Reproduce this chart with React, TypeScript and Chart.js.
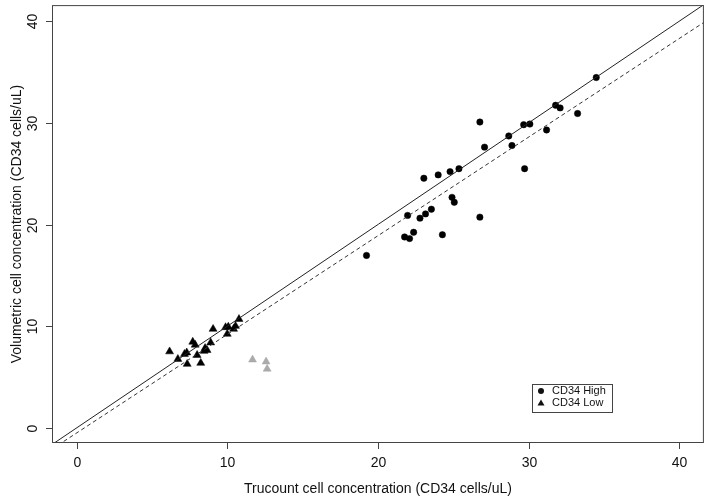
import React, { useEffect, useRef } from "react";
import { Chart, registerables } from "chart.js";

Chart.register(...registerables);

// CD34 High (circles)
const highX = [34.5, 31.8, 32.1, 33.26, 26.77, 29.68, 30.09, 31.2, 28.69, 27.08, 28.9, 23.05, 24.0, 24.79, 25.38, 29.74, 24.92, 25.07, 21.97, 23.55, 23.16, 22.79, 26.77, 22.37, 21.77, 22.1, 24.28, 19.24];
const highY = [34.47, 31.74, 31.48, 30.93, 30.09, 29.83, 29.89, 29.31, 28.72, 27.62, 27.78, 24.56, 24.89, 25.21, 25.5, 25.5, 22.68, 22.19, 20.9, 21.51, 21.05, 20.63, 20.73, 19.24, 18.78, 18.62, 19.0, 16.96];

// CD34 Low (triangles)
const lowX = [6.16, 6.71, 7.15, 7.3, 7.33, 7.7, 7.86, 7.99, 8.23, 8.52, 8.65, 8.45, 8.89, 9.05, 9.88, 10.06, 9.99, 10.41, 10.54, 10.77];
const lowY = [7.5, 6.76, 7.25, 7.4, 6.27, 8.45, 8.16, 7.15, 6.37, 7.83, 7.64, 7.55, 8.38, 9.72, 9.88, 9.94, 9.23, 9.72, 10.01, 10.69];

// excluded (grey) triangles
const exclX = [11.67, 12.57, 12.64];
const exclY = [6.7, 6.5, 5.79];

const xTicks = [0, 10, 20, 30, 40];
const yTicks = [0, 10, 20, 30, 40];
const xTitle = "Trucount cell concentration (CD34 cells/uL)";
const yTitle = "Volumetric cell concentration (CD34 cells/uL)";
const legendLabels = ["CD34 High", "CD34 Low"];

const xMin = -1.65;
const xMax = 41.65;
const yMin = -1.5;
const yMax = 41.6;

// fitted regression line (dashed)
const fitSlope = 0.97;
const fitIntercept = -0.5;

const FONT = "'Liberation Sans', Arial, sans-serif";

const rPlot = {
  id: "rPlot",
  afterDraw(chart: any) {
    const { ctx, chartArea, scales } = chart;
    const { left, right, top, bottom } = chartArea;
    const xs = scales.x;
    const ys = scales.y;
    ctx.save();
    ctx.strokeStyle = "#444";
    ctx.lineWidth = 1;
    ctx.strokeRect(left + 0.5, top + 0.5, right - left - 1, bottom - top - 1);

    // x ticks
    ctx.fillStyle = "#111";
    ctx.font = `14px ${FONT}`;
    ctx.textAlign = "center";
    ctx.textBaseline = "middle";
    xTicks.forEach((t) => {
      const px = Math.round(xs.getPixelForValue(t)) + 0.5;
      ctx.beginPath();
      ctx.moveTo(px, bottom);
      ctx.lineTo(px, bottom + 6);
      ctx.stroke();
      ctx.fillText(String(t), px, bottom + 20);
    });
    // y ticks
    yTicks.forEach((t) => {
      const py = Math.round(ys.getPixelForValue(t)) + 0.5;
      ctx.beginPath();
      ctx.moveTo(left, py);
      ctx.lineTo(left - 6, py);
      ctx.stroke();
      ctx.save();
      ctx.translate(left - 19, py);
      ctx.rotate(-Math.PI / 2);
      ctx.fillText(String(t), 0, 0);
      ctx.restore();
    });
    // titles
    ctx.fillText(xTitle, (left + right) / 2, bottom + 46);
    ctx.save();
    ctx.translate(17, (top + bottom) / 2);
    ctx.rotate(-Math.PI / 2);
    ctx.fillText(yTitle, 0, 0);
    ctx.restore();

    // legend
    const lx = 532, ly = 384, lw = 80, lh = 28;
    ctx.fillStyle = "#fff";
    ctx.fillRect(lx, ly, lw, lh);
    ctx.strokeStyle = "#444";
    ctx.strokeRect(lx + 0.5, ly + 0.5, lw, lh);
    ctx.fillStyle = "#111";
    ctx.font = `11px ${FONT}`;
    ctx.textAlign = "left";
    ctx.beginPath();
    ctx.arc(541, 391, 3, 0, Math.PI * 2);
    ctx.fill();
    ctx.beginPath();
    ctx.moveTo(541, 399.5);
    ctx.lineTo(544.5, 405.5);
    ctx.lineTo(537.5, 405.5);
    ctx.closePath();
    ctx.fill();
    ctx.fillText(legendLabels[0], 552, 391);
    ctx.fillText(legendLabels[1], 552, 403);
    ctx.restore();
  },
};

export default function App() {
  const ref = useRef<HTMLCanvasElement>(null);
  useEffect(() => {
    if (!ref.current) return;
    const toPts = (xs: number[], ys: number[]) => xs.map((x, i) => ({ x, y: ys[i] }));
    const chart = new Chart(ref.current, {
      type: "scatter",
      data: {
        datasets: [
          {
            label: "identity",
            type: "line",
            data: [
              { x: xMin, y: xMin },
              { x: xMax, y: xMax },
            ],
            borderColor: "#222",
            borderWidth: 1,
            pointRadius: 0,
            fill: false,
          } as any,
          {
            label: "fit",
            type: "line",
            data: [
              { x: xMin, y: fitSlope * xMin + fitIntercept },
              { x: xMax, y: fitSlope * xMax + fitIntercept },
            ],
            borderColor: "#333",
            borderWidth: 1,
            borderDash: [4, 3],
            pointRadius: 0,
            fill: false,
          } as any,
          {
            label: legendLabels[0],
            data: toPts(highX, highY),
            pointStyle: "circle",
            pointRadius: 3.2,
            pointBorderWidth: 0.5,
            backgroundColor: "#000",
            borderColor: "#000",
          },
          {
            label: legendLabels[1],
            data: toPts(lowX, lowY),
            pointStyle: "triangle",
            pointRadius: 4.6,
            pointBorderWidth: 0.5,
            backgroundColor: "#000",
            borderColor: "#000",
          },
          {
            label: "excluded",
            data: toPts(exclX, exclY),
            pointStyle: "triangle",
            pointRadius: 4.6,
            pointBorderWidth: 0.5,
            backgroundColor: "#aaa",
            borderColor: "#aaa",
          },
        ],
      },
      options: {
        responsive: false,
        animation: false,
        layout: { padding: { left: 52, top: 1, right: 1, bottom: 56 } },
        plugins: { legend: { display: false }, tooltip: { enabled: false } },
        scales: {
          x: { type: "linear", min: xMin, max: xMax, display: false },
          y: { type: "linear", min: yMin, max: yMax, display: false },
        },
      },
      plugins: [rPlot],
    });
    return () => chart.destroy();
  }, []);
  return (
    <div style={{ position: "absolute", left: 0, top: 0, width: 709, height: 499, background: "#fff" }}>
      <canvas ref={ref} width={709} height={499} style={{ width: 709, height: 499, display: "block" }} />
    </div>
  );
}
